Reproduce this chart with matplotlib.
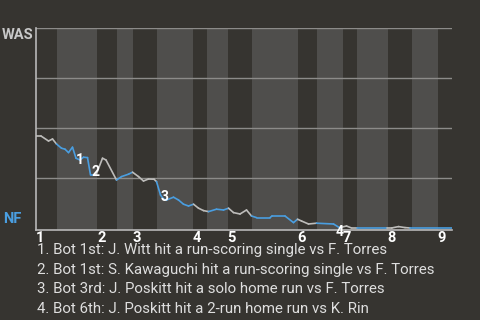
import matplotlib.pyplot as plt
import numpy as np

# win probability for WAS (percent) by game event
event = [0, 1.0, 2.5, 3.3, 4.1, 5.1, 5.8, 6.5, 7.3, 8.0, 8.8, 9.5, 10.3, 10.9, 12.0,
         13.3, 14.0, 16.1, 17.1, 18.5, 19.3, 20.5, 21.5, 22.5, 23.6, 24.1, 24.9, 25.5,
         26.1, 27.5, 28.5, 29.5, 30.5, 31.5, 32.5, 33.5, 34.5, 36.1, 37.5, 38.5, 39.5,
         40.8, 42.1, 43.1, 44.1, 46.8, 47.2, 49.8, 51.5, 52.3, 53.1, 54.5, 56.1, 59.5,
         60.8, 61.1, 62.1, 63.1, 64.1, 70.2, 71.1, 72.5, 73.8, 74.8, 83.2]
was_wp = [46, 46, 43.5, 44.5, 42, 39.9, 39.4, 37.7, 40.4, 34.9, 34, 35.4, 35.2, 26.5, 26.5,
          34.9, 34, 24, 25.7, 26.9, 27.9, 25.7, 23.5, 24.5, 24.4, 23.2, 16.5, 14.4,
          14, 15.4, 14, 11.9, 11, 11.9, 9.9, 8.7, 8.2, 9.4, 9, 9.9, 7.7,
          7, 9, 6, 5.2, 5.2, 6, 6, 2.7, 4.4, 3.5, 2, 2.4, 2,
          0, 0.4, 1, 0, 0, 0, 0, 0.7, 0.2, 0, 0]

# start of each half inning (top 1st, bot 1st, top 2nd, ...)
half_starts = [0, 4.1, 12.2, 16.1, 19.3, 24.1, 31.3, 34.1, 38.3, 43.1, 52.3, 56.1,
               61.3, 64.1, 70.3, 75.1, 80.3]
x_end = 83.2
inning_labels = ['1', '2', '3', '4', '5', '6', '7', '8', '9']

# key plays
play_num = ['1', '2', '3', '4']
play_x = [8.8, 11.8, 25.8, 60.8]
play_y = [34, 28, 15.5, -2]
play_text = [
    "1. Bot 1st: J. Witt hit a run-scoring single vs F. Torres",
    "2. Bot 1st: S. Kawaguchi hit a run-scoring single vs F. Torres",
    "3. Bot 3rd: J. Poskitt hit a solo home run vs F. Torres",
    "4. Bot 6th: J. Poskitt hit a 2-run home run vs K. Rin",
]

bg = '#363430'
band = '#4f4e4c'
blue = '#4a9ee0'
gray = '#bdbcba'

plt.rcParams['font.family'] = ['Roboto', 'DejaVu Sans']

fig = plt.figure(figsize=(4.8, 3.2), dpi=100, facecolor=bg)
ax = fig.add_axes([0.075, 0.28125, 0.8667, 0.63125])
ax.set_facecolor(bg)
ax.set_xlim(0, x_end)
ax.set_ylim(-1, 100)

bounds = half_starts + [x_end]
for i in range(len(half_starts)):
    if i % 2 == 1:
        ax.axvspan(bounds[i], bounds[i + 1], color=band, lw=0, zorder=0)

for g in [25, 50, 75, 100]:
    ax.axhline(g, color='#8c8b89', lw=1, zorder=1)

# colour each segment by which team is batting
for i in range(len(event) - 1):
    mid = (event[i] + event[i + 1]) / 2
    k = np.searchsorted(half_starts, mid, side='right') - 1
    c = blue if k % 2 == 1 else gray
    ax.plot(event[i:i + 2], was_wp[i:i + 2], color=c, lw=1.2,
            solid_capstyle='round', zorder=3)

for n, px, py in zip(play_num, play_x, play_y):
    ax.text(px, py, n, color='white', fontsize=10, fontweight='bold',
            ha='center', va='center', zorder=4, clip_on=False)

for sp in ['top', 'right']:
    ax.spines[sp].set_visible(False)
for sp in ['left', 'bottom']:
    ax.spines[sp].set_color('#b8b8b8')
    ax.spines[sp].set_linewidth(1.2)
ax.set_xticks([])
ax.set_yticks([])

for lab, s in zip(inning_labels, half_starts[::2]):
    ax.annotate(lab, xy=(s, 0), xycoords=('data', 'figure fraction'),
                xytext=(0, 1 - 237.5 / 320), textcoords=('offset points', 'figure fraction'),
                color='white', fontsize=10.5, fontweight='bold',
                ha='left', va='center', annotation_clip=False)

fig.text(2 / 480, 1 - 35 / 320, 'WAS', color='#c8c8c8', fontsize=10.5,
         fontweight='bold', ha='left', va='center')
fig.text(3 / 480, 1 - 219 / 320, 'NF', color=blue, fontsize=10.5,
         fontweight='bold', ha='left', va='center')

for i, t in enumerate(play_text):
    fig.text(37 / 480, 1 - (250 + 19.7 * i) / 320, t, color='#dedede',
             fontsize=10.8, ha='left', va='center')

fig.savefig('out.png', dpi=100, facecolor=bg)
